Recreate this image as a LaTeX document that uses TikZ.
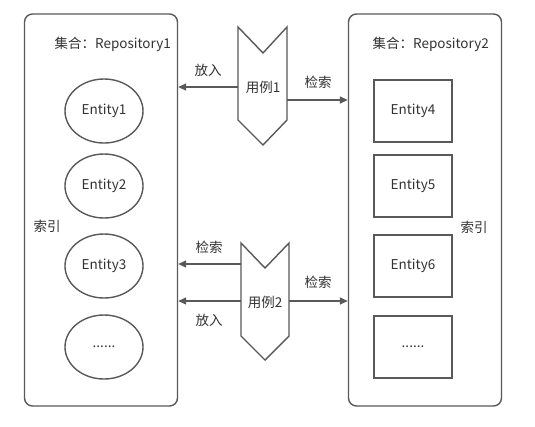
\documentclass[tikz,border=0pt]{standalone}
\usepackage{fontspec}
\setmainfont{Noto Sans CJK SC}
\usetikzlibrary{shapes.geometric,arrows.meta}
\definecolor{ln}{HTML}{595959}
\definecolor{tx}{HTML}{333333}
\begin{document}
\begin{tikzpicture}[x=1pt,y=-1pt,
  every node/.style={font=\fontsize{13.5}{15}\selectfont, text=tx, inner sep=0pt},
  repo/.style={draw=ln, line width=1.4pt, rounded corners=8pt, minimum width=153pt, minimum height=392pt},
  ent/.style={draw=ln, line width=1.4pt, ellipse, minimum width=78pt, minimum height=64pt},
  sq/.style={draw=ln, line width=1.4pt, rectangle, minimum width=78pt, minimum height=62pt},
  uc/.style={draw=ln, line width=1.4pt, line join=miter},
  arr/.style={draw=ln, line width=1.4pt, -{Triangle[length=8pt,width=7pt]}}]
\useasboundingbox (0,0) rectangle (535,426);
\fill[white] (0,0) rectangle (535,426);
% repositories
\node[repo] (repo1) at (101,210) {};
\node[repo] (repo2) at (425,210) {};
\node[anchor=east] (t1) at (171,44) {集合：Repository1};
\node[anchor=east] (t2) at (489,44) {集合：Repository2};
\node (idx1) at (47,226) {索引};
\node (idx2) at (474,227) {索引};
% entities
\node[ent] (e1) at (104,111) {Entity1};
\node[ent] (e2) at (104,186) {Entity2};
\node[ent] (e3) at (104,266) {Entity3};
\node[ent] (e4) at (104,347) {......};
\node[sq] (s4) at (413,111) {Entity4};
\node[sq] (s5) at (413,186) {Entity5};
\node[sq] (s6) at (413,266) {Entity6};
\node[sq] (s7) at (413,347) {......};
% use case 1
\draw[uc] (238,27) -- (263,53) -- (287,27) -- (287,120) -- (263,145) -- (238,120) -- cycle;
\node (uc1) at (263,87) {用例1};
\coordinate (u1a) at (238,87);
\coordinate (u1b) at (287,100);
% use case 2
\draw[uc] (241,243) -- (265,268) -- (289,243) -- (289,336) -- (265,360) -- (241,336) -- cycle;
\node (uc2) at (265,302) {用例2};
\coordinate (u2a) at (241,264);
\coordinate (u2b) at (241,301);
\coordinate (u2c) at (289,301);
% arrows
\draw[arr] (u1a) -- (u1a -| repo1.east);
\draw[arr] (u1b) -- (u1b -| repo2.west);
\draw[arr] (u2a) -- (u2a -| repo1.east);
\draw[arr] (u2b) -- (u2b -| repo1.east);
\draw[arr] (u2c) -- (u2c -| repo2.west);
% labels
\node (l1) at (208,70) {放入};
\node (l2) at (318,82) {检索};
\node (l3) at (209,247) {检索};
\node (l4) at (209,320) {放入};
\node (l5) at (318,282) {检索};
\end{tikzpicture}
\end{document}
